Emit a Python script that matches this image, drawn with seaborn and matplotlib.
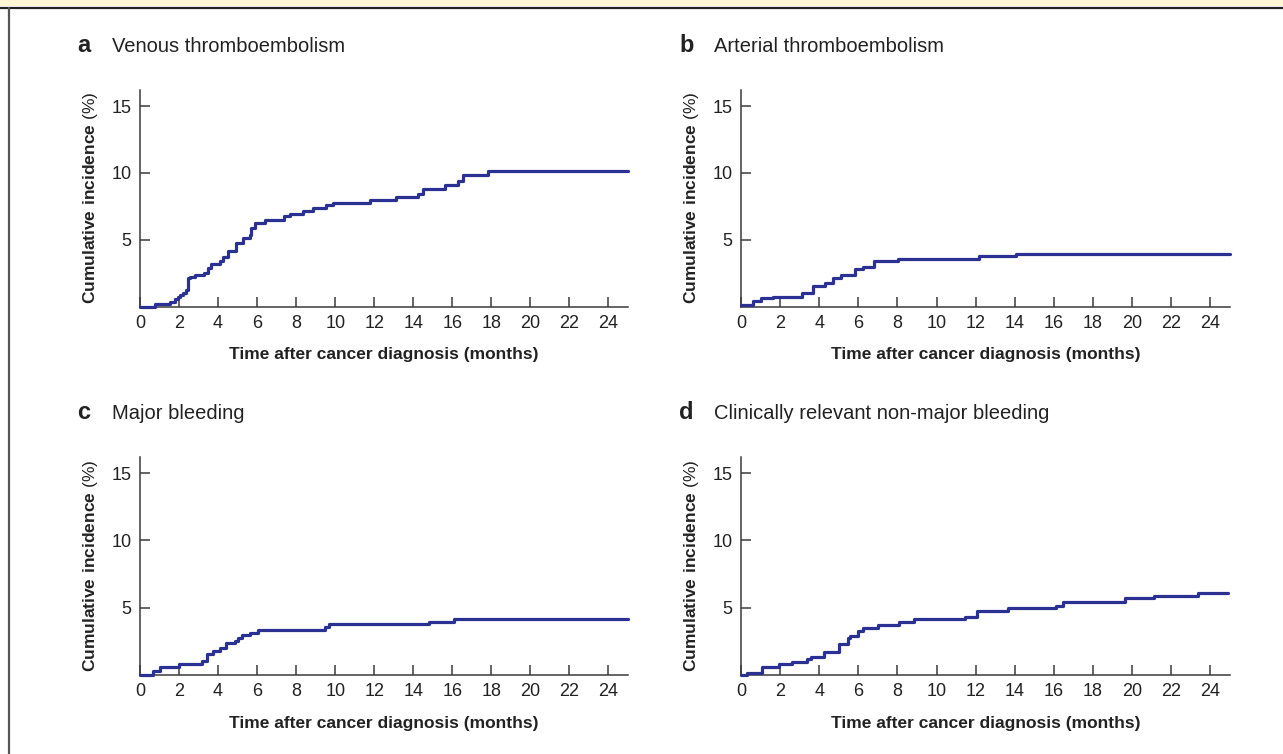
import matplotlib
matplotlib.use("Agg")
import matplotlib.pyplot as plt
import pandas as pd
import seaborn as sns

# step times (months) and cumulative incidence (%)
vte_t = [0, 0.77, 1.53, 1.8, 1.95, 2.05, 2.2, 2.35, 2.47, 2.56, 2.8, 3.3, 3.5, 3.66, 4.1, 4.26,
         4.52, 4.94, 5.29, 5.63, 5.7, 5.88, 6.4, 7.4, 7.67, 8.35, 8.86, 9.54, 9.89, 11.8,
         13.13, 14.24, 14.5, 15.6, 16.28, 16.54, 17.82, 25]
vte_y = [0, 0.2, 0.37, 0.58, 0.75, 0.87, 1.05, 1.25, 2.13, 2.25, 2.38, 2.55, 2.88, 3.18, 3.38,
         3.75, 4.13, 4.75, 5.13, 5.38, 5.88, 6.25, 6.5, 6.75, 6.93, 7.13, 7.38, 7.63, 7.75,
         7.95, 8.18, 8.43, 8.8, 9.13, 9.38, 9.88, 10.13, 10.13]

ate_t = [0, 0.6, 1.0, 1.65, 3.1, 3.66, 4.29, 4.68, 5.09, 5.83, 6.25, 6.81, 8.04, 12.18, 14.05, 25]
ate_y = [0.13, 0.43, 0.63, 0.75, 1.0, 1.55, 1.75, 2.18, 2.38, 2.8, 2.95, 3.38, 3.55, 3.8, 3.95, 3.95]

mb_t = [0, 0.68, 1.02, 2.0, 3.2, 3.41, 3.72, 4.09, 4.43, 4.86, 5.03, 5.2, 5.63, 6.05, 9.46,
        9.67, 14.83, 16.11, 25]
mb_y = [0, 0.3, 0.62, 0.79, 1.07, 1.56, 1.81, 2.03, 2.35, 2.55, 2.77, 2.97, 3.1, 3.34, 3.59,
        3.79, 3.94, 4.14, 4.14]

crnm_t = [0, 0.32, 1.06, 1.96, 2.59, 3.37, 3.58, 4.26, 4.99, 5.45, 5.59, 5.96, 6.25, 6.98,
          8.09, 8.86, 11.45, 12.08, 13.66, 16.1, 16.47, 19.62, 21.12, 23.37, 24.9]
crnm_y = [0, 0.17, 0.57, 0.79, 0.99, 1.19, 1.36, 1.73, 2.3, 2.73, 2.9, 3.29, 3.52, 3.72,
          3.96, 4.14, 4.34, 4.78, 4.96, 5.15, 5.45, 5.7, 5.9, 6.12, 6.12]

panel_letters = ["a", "b", "c", "d"]
panel_titles = ["Venous thromboembolism", "Arterial thromboembolism",
                "Major bleeding", "Clinically relevant non-major bleeding"]
series = [(vte_t, vte_y), (ate_t, ate_y), (mb_t, mb_y), (crnm_t, crnm_y)]
x_ticks = list(range(0, 25, 2))
y_ticks = [5, 10, 15]

sns.set_style("ticks")
plt.rcParams["font.family"] = ["Liberation Sans", "DejaVu Sans"]
plt.rcParams["mathtext.fontset"] = "custom"
plt.rcParams["mathtext.rm"] = "Liberation Sans"
plt.rcParams["mathtext.bf"] = "Liberation Sans:bold"

W, H = 1283, 754
fig = plt.figure(figsize=(W / 100, H / 100), dpi=100)

line_col = "#2b3192"
spine_col = "#3a3a3a"

# axes boxes in pixels: left, top, right, bottom
boxes = [(140, 90, 628, 306.7), (741, 90, 1230, 306.7),
         (140, 457, 628, 675), (741, 457, 1230, 675)]

for i, (t, y) in enumerate(series):
    l, tp, r, b = boxes[i]
    ax = fig.add_axes([l / W, 1 - b / H, (r - l) / W, (b - tp) / H])
    df = pd.DataFrame({"month": t, "incidence": y})
    sns.lineplot(data=df, x="month", y="incidence", ax=ax, color=line_col,
                 linewidth=2.3, drawstyle="steps-post", estimator=None,
                 clip_on=False, zorder=5)
    ax.set_xlim(0, 25)
    ax.set_ylim(0, 16.2)
    ax.set_xticks(x_ticks)
    ax.set_yticks(y_ticks)
    ax.tick_params(direction="in", length=7.5, width=1.1, color=spine_col,
                   labelsize=13, labelcolor="#222222", pad=6)
    for s in ["top", "right"]:
        ax.spines[s].set_visible(False)
    for s in ["left", "bottom"]:
        ax.spines[s].set_color(spine_col)
        ax.spines[s].set_linewidth(1.1)
    ax.set_xlabel("Time after cancer diagnosis (months)", fontsize=12.5,
                  fontweight="bold", color="#222222", labelpad=11)
    ax.set_ylabel(r"$\bf{Cumulative\ incidence}$ (%)", fontsize=12.5,
                  color="#222222", labelpad=8)

    # panel letter and title
    ty = 52 if i < 2 else 419
    lx = 77 if i % 2 == 0 else 679
    fig.text(lx / W, 1 - ty / H, panel_letters[i], fontsize=17, fontweight="bold",
             color="#222222", va="baseline")
    fig.text((lx + 35) / W, 1 - ty / H, panel_titles[i], fontsize=14.5,
             color="#222222", va="baseline")

# frame: yellow strip on top, rule below it, left border
fig.patches.append(plt.Rectangle((0, 1 - 6 / H), 1, 6 / H, transform=fig.transFigure,
                                 facecolor="#fdf5d6", edgecolor="none"))
fig.add_artist(plt.Line2D([0, 1], [1 - 7.5 / H] * 2, transform=fig.transFigure,
                          color="#222222", linewidth=1.6))
fig.add_artist(plt.Line2D([9 / W] * 2, [0, 1 - 7.5 / H], transform=fig.transFigure,
                          color="#555555", linewidth=1.6))

fig.savefig("out.png", dpi=100)
